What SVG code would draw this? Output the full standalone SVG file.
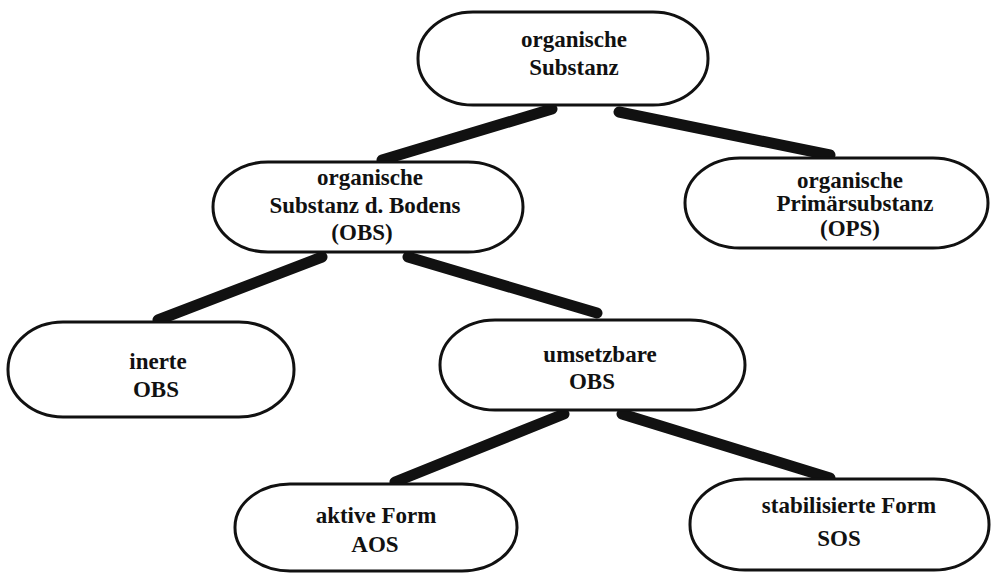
<svg xmlns="http://www.w3.org/2000/svg" width="992" height="575" viewBox="0 0 992 575">
<style>
.node rect{fill:#fff;stroke:#111;stroke-width:3}
.node text{font-family:"Liberation Serif","Times New Roman",serif;font-weight:bold;font-size:23px;fill:#111;text-anchor:middle}
.conn line{stroke:#111;stroke-width:11;stroke-linecap:round}
</style>
<rect width="992" height="575" fill="#fff"/>
<g id="connectors" class="conn">
<line x1="552" y1="109" x2="382" y2="160"/>
<line x1="619" y1="112" x2="830" y2="155"/>
<line x1="322" y1="257" x2="158" y2="320"/>
<line x1="408" y1="257" x2="597" y2="313"/>
<line x1="564" y1="414" x2="395" y2="482"/>
<line x1="622" y1="414" x2="830" y2="478"/>
</g>
<g id="n1" class="node">
<rect x="418" y="12" width="290" height="93" rx="55" ry="46"/>
<text x="574" y="47">organische</text>
<text x="574" y="75">Substanz</text>
</g>
<g id="n2" class="node">
<rect x="213" y="162" width="310" height="90" rx="55" ry="45"/>
<text x="370" y="185">organische</text>
<text x="365" y="213">Substanz d. Bodens</text>
<text x="362" y="240">(OBS)</text>
</g>
<g id="n3" class="node">
<rect x="685" y="158" width="303" height="90" rx="55" ry="45"/>
<text x="850" y="188">organische</text>
<text x="855" y="211">Primärsubstanz</text>
<text x="850" y="236">(OPS)</text>
</g>
<g id="n4" class="node">
<rect x="8" y="322" width="286" height="95" rx="55" ry="47"/>
<text x="158" y="369">inerte</text>
<text x="156" y="397">OBS</text>
</g>
<g id="n5" class="node">
<rect x="440" y="320" width="305" height="90" rx="55" ry="45"/>
<text x="600" y="362">umsetzbare</text>
<text x="592" y="389">OBS</text>
</g>
<g id="n6" class="node">
<rect x="235" y="484" width="282" height="87" rx="55" ry="43"/>
<text x="376" y="523">aktive Form</text>
<text x="375" y="552">AOS</text>
</g>
<g id="n7" class="node">
<rect x="690" y="479" width="299" height="91" rx="55" ry="45"/>
<text x="849" y="513">stabilisierte Form</text>
<text x="839" y="546">SOS</text>
</g>
</svg>
